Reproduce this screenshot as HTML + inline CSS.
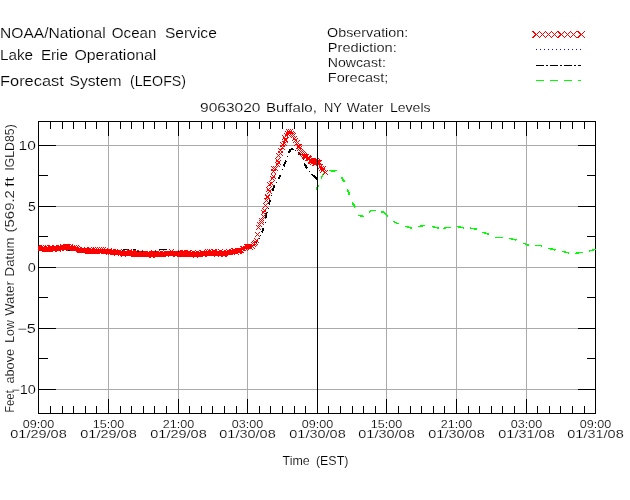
<!DOCTYPE html>
<html lang="en"><head><meta charset="utf-8"><title>9063020 Buffalo, NY Water Levels</title>
<style>html,body{margin:0;padding:0;background:#fff;}svg{display:block;}text{font-family:"Liberation Sans",sans-serif;fill:#000;stroke:#fff;stroke-width:0.15px;}</style></head><body>
<svg width="630" height="500" viewBox="0 0 630 500">
<rect width="630" height="500" fill="#fff"/>
<g shape-rendering="crispEdges" stroke="#aaaaaa" stroke-width="1" fill="none">
<line x1="108.5" y1="121" x2="108.5" y2="414"/>
<line x1="178.5" y1="121" x2="178.5" y2="414"/>
<line x1="247.5" y1="121" x2="247.5" y2="414"/>
<line x1="317.5" y1="121" x2="317.5" y2="414"/>
<line x1="386.5" y1="121" x2="386.5" y2="414"/>
<line x1="456.5" y1="121" x2="456.5" y2="414"/>
<line x1="526.5" y1="121" x2="526.5" y2="414"/>
<line x1="38" y1="389.5" x2="596" y2="389.5"/>
<line x1="38" y1="328.5" x2="596" y2="328.5"/>
<line x1="38" y1="267.5" x2="596" y2="267.5"/>
<line x1="38" y1="206.5" x2="596" y2="206.5"/>
<line x1="38" y1="145.5" x2="596" y2="145.5"/>
</g>
<g shape-rendering="crispEdges" stroke="#000" stroke-width="1" fill="none">
<rect x="38.5" y="121.5" width="557" height="292"/>
<line x1="38.5" y1="121" x2="38.5" y2="136"/>
<line x1="38.5" y1="414" x2="38.5" y2="399"/>
<line x1="50.5" y1="121" x2="50.5" y2="129"/>
<line x1="50.5" y1="414" x2="50.5" y2="406"/>
<line x1="62.5" y1="121" x2="62.5" y2="129"/>
<line x1="62.5" y1="414" x2="62.5" y2="406"/>
<line x1="73.5" y1="121" x2="73.5" y2="129"/>
<line x1="73.5" y1="414" x2="73.5" y2="406"/>
<line x1="85.5" y1="121" x2="85.5" y2="129"/>
<line x1="85.5" y1="414" x2="85.5" y2="406"/>
<line x1="96.5" y1="121" x2="96.5" y2="129"/>
<line x1="96.5" y1="414" x2="96.5" y2="406"/>
<line x1="108.5" y1="121" x2="108.5" y2="136"/>
<line x1="108.5" y1="414" x2="108.5" y2="399"/>
<line x1="120.5" y1="121" x2="120.5" y2="129"/>
<line x1="120.5" y1="414" x2="120.5" y2="406"/>
<line x1="131.5" y1="121" x2="131.5" y2="129"/>
<line x1="131.5" y1="414" x2="131.5" y2="406"/>
<line x1="143.5" y1="121" x2="143.5" y2="129"/>
<line x1="143.5" y1="414" x2="143.5" y2="406"/>
<line x1="154.5" y1="121" x2="154.5" y2="129"/>
<line x1="154.5" y1="414" x2="154.5" y2="406"/>
<line x1="166.5" y1="121" x2="166.5" y2="129"/>
<line x1="166.5" y1="414" x2="166.5" y2="406"/>
<line x1="178.5" y1="121" x2="178.5" y2="136"/>
<line x1="178.5" y1="414" x2="178.5" y2="399"/>
<line x1="189.5" y1="121" x2="189.5" y2="129"/>
<line x1="189.5" y1="414" x2="189.5" y2="406"/>
<line x1="201.5" y1="121" x2="201.5" y2="129"/>
<line x1="201.5" y1="414" x2="201.5" y2="406"/>
<line x1="212.5" y1="121" x2="212.5" y2="129"/>
<line x1="212.5" y1="414" x2="212.5" y2="406"/>
<line x1="224.5" y1="121" x2="224.5" y2="129"/>
<line x1="224.5" y1="414" x2="224.5" y2="406"/>
<line x1="236.5" y1="121" x2="236.5" y2="129"/>
<line x1="236.5" y1="414" x2="236.5" y2="406"/>
<line x1="247.5" y1="121" x2="247.5" y2="136"/>
<line x1="247.5" y1="414" x2="247.5" y2="399"/>
<line x1="259.5" y1="121" x2="259.5" y2="129"/>
<line x1="259.5" y1="414" x2="259.5" y2="406"/>
<line x1="270.5" y1="121" x2="270.5" y2="129"/>
<line x1="270.5" y1="414" x2="270.5" y2="406"/>
<line x1="282.5" y1="121" x2="282.5" y2="129"/>
<line x1="282.5" y1="414" x2="282.5" y2="406"/>
<line x1="294.5" y1="121" x2="294.5" y2="129"/>
<line x1="294.5" y1="414" x2="294.5" y2="406"/>
<line x1="305.5" y1="121" x2="305.5" y2="129"/>
<line x1="305.5" y1="414" x2="305.5" y2="406"/>
<line x1="317.5" y1="121" x2="317.5" y2="136"/>
<line x1="317.5" y1="414" x2="317.5" y2="399"/>
<line x1="328.5" y1="121" x2="328.5" y2="129"/>
<line x1="328.5" y1="414" x2="328.5" y2="406"/>
<line x1="340.5" y1="121" x2="340.5" y2="129"/>
<line x1="340.5" y1="414" x2="340.5" y2="406"/>
<line x1="352.5" y1="121" x2="352.5" y2="129"/>
<line x1="352.5" y1="414" x2="352.5" y2="406"/>
<line x1="363.5" y1="121" x2="363.5" y2="129"/>
<line x1="363.5" y1="414" x2="363.5" y2="406"/>
<line x1="375.5" y1="121" x2="375.5" y2="129"/>
<line x1="375.5" y1="414" x2="375.5" y2="406"/>
<line x1="386.5" y1="121" x2="386.5" y2="136"/>
<line x1="386.5" y1="414" x2="386.5" y2="399"/>
<line x1="398.5" y1="121" x2="398.5" y2="129"/>
<line x1="398.5" y1="414" x2="398.5" y2="406"/>
<line x1="410.5" y1="121" x2="410.5" y2="129"/>
<line x1="410.5" y1="414" x2="410.5" y2="406"/>
<line x1="421.5" y1="121" x2="421.5" y2="129"/>
<line x1="421.5" y1="414" x2="421.5" y2="406"/>
<line x1="433.5" y1="121" x2="433.5" y2="129"/>
<line x1="433.5" y1="414" x2="433.5" y2="406"/>
<line x1="444.5" y1="121" x2="444.5" y2="129"/>
<line x1="444.5" y1="414" x2="444.5" y2="406"/>
<line x1="456.5" y1="121" x2="456.5" y2="136"/>
<line x1="456.5" y1="414" x2="456.5" y2="399"/>
<line x1="468.5" y1="121" x2="468.5" y2="129"/>
<line x1="468.5" y1="414" x2="468.5" y2="406"/>
<line x1="479.5" y1="121" x2="479.5" y2="129"/>
<line x1="479.5" y1="414" x2="479.5" y2="406"/>
<line x1="491.5" y1="121" x2="491.5" y2="129"/>
<line x1="491.5" y1="414" x2="491.5" y2="406"/>
<line x1="502.5" y1="121" x2="502.5" y2="129"/>
<line x1="502.5" y1="414" x2="502.5" y2="406"/>
<line x1="514.5" y1="121" x2="514.5" y2="129"/>
<line x1="514.5" y1="414" x2="514.5" y2="406"/>
<line x1="526.5" y1="121" x2="526.5" y2="136"/>
<line x1="526.5" y1="414" x2="526.5" y2="399"/>
<line x1="537.5" y1="121" x2="537.5" y2="129"/>
<line x1="537.5" y1="414" x2="537.5" y2="406"/>
<line x1="549.5" y1="121" x2="549.5" y2="129"/>
<line x1="549.5" y1="414" x2="549.5" y2="406"/>
<line x1="560.5" y1="121" x2="560.5" y2="129"/>
<line x1="560.5" y1="414" x2="560.5" y2="406"/>
<line x1="572.5" y1="121" x2="572.5" y2="129"/>
<line x1="572.5" y1="414" x2="572.5" y2="406"/>
<line x1="584.5" y1="121" x2="584.5" y2="129"/>
<line x1="584.5" y1="414" x2="584.5" y2="406"/>
<line x1="595.5" y1="121" x2="595.5" y2="136"/>
<line x1="595.5" y1="414" x2="595.5" y2="399"/>
<line x1="38" y1="389.5" x2="56" y2="389.5"/>
<line x1="596" y1="389.5" x2="578" y2="389.5"/>
<line x1="38" y1="358.5" x2="48" y2="358.5"/>
<line x1="596" y1="358.5" x2="587" y2="358.5"/>
<line x1="38" y1="328.5" x2="56" y2="328.5"/>
<line x1="596" y1="328.5" x2="578" y2="328.5"/>
<line x1="38" y1="297.5" x2="48" y2="297.5"/>
<line x1="596" y1="297.5" x2="587" y2="297.5"/>
<line x1="38" y1="267.5" x2="56" y2="267.5"/>
<line x1="596" y1="267.5" x2="578" y2="267.5"/>
<line x1="38" y1="236.5" x2="48" y2="236.5"/>
<line x1="596" y1="236.5" x2="587" y2="236.5"/>
<line x1="38" y1="206.5" x2="56" y2="206.5"/>
<line x1="596" y1="206.5" x2="578" y2="206.5"/>
<line x1="38" y1="175.5" x2="48" y2="175.5"/>
<line x1="596" y1="175.5" x2="587" y2="175.5"/>
<line x1="38" y1="145.5" x2="56" y2="145.5"/>
<line x1="596" y1="145.5" x2="578" y2="145.5"/>
</g>
<clipPath id="pc"><rect x="38" y="121" width="558" height="293"/></clipPath>
<defs><path id="xs" shape-rendering="crispEdges" fill="#ff0000" stroke="none" d="M-2,-2h1v1h-1zM-1,-1h1v1h-1zM0,0h1v1h-1zM1,1h1v1h-1zM2,2h1v1h-1zM-2,2h1v1h-1zM-1,1h1v1h-1zM1,-1h1v1h-1zM2,-2h1v1h-1z"/></defs>
<defs><path id="xm" shape-rendering="crispEdges" fill="#ff0000" stroke="none" d="M-3,-3h1v1h-1zM-2,-2h1v1h-1zM-1,-1h1v1h-1zM0,0h1v1h-1zM1,1h1v1h-1zM2,2h1v1h-1zM3,3h1v1h-1zM-3,3h1v1h-1zM-2,2h1v1h-1zM-1,1h1v1h-1zM1,-1h1v1h-1zM2,-2h1v1h-1zM3,-3h1v1h-1z"/>
<path id="xl" shape-rendering="crispEdges" fill="#ff0000" stroke="none" d="M-3,-3h1v1h-1zM-2,-2h1v1h-1zM-1,-1h1v1h-1zM0,0h1v1h-1zM-3,3h1v1h-1zM-2,2h1v1h-1zM-1,1h1v1h-1z"/></defs>
<polyline shape-rendering="crispEdges" points="38.5,250.0 67.0,250.3 90.0,250.5 123.0,251.0 166.0,251.0 178.0,251.5 190.0,252.0 216.0,252.0 234.0,251.0 247.0,248.5 254.0,245.5 258.0,240.0" fill="none" stroke="#000" stroke-width="1" stroke-dasharray="8 2 2 2"/>
<g shape-rendering="crispEdges" fill="#000" stroke="#000" stroke-width="1.9">
<polyline points="123.0,249.5 129.0,249.5" fill="none" stroke-width="1"/>
<polyline points="133.0,249.5 135.5,249.5" fill="none" stroke-width="1"/>
<polyline points="159.0,249.5 166.5,249.5" fill="none" stroke-width="1"/>
<rect x="259" y="238" width="1" height="1" stroke="none"/>
<rect x="260" y="235" width="1" height="1" stroke="none"/>
<polyline points="262.0,232.6 263.4,227.8" fill="none"/>
<rect x="265" y="222" width="1" height="1" stroke="none"/>
<polyline points="265.6,218.2 266.8,211.6" fill="none"/>
<rect x="268" y="208" width="1" height="1" stroke="none"/>
<polyline points="268.6,204.4 270.2,199.6" fill="none"/>
<rect x="271" y="195" width="1" height="1" stroke="none"/>
<polyline points="272.5,191.2 274.3,185.1" fill="none"/>
<rect x="276" y="182" width="1" height="1" stroke="none"/>
<polyline points="278.5,179.0 280.5,174.7" fill="none"/>
<rect x="282" y="169" width="1" height="1" stroke="none"/>
<polyline points="283.6,166.4 286.0,160.4" fill="none"/>
<rect x="287" y="156" width="1" height="1" stroke="none"/>
<polyline points="288.6,153.0 290.5,149.6 293.5,148.5" fill="none"/>
<rect x="295" y="150" width="1" height="1" stroke="none"/>
<polyline points="298.0,153.0 300.5,155.0" fill="none"/>
<rect x="303" y="159" width="1" height="1" stroke="none"/>
<polyline points="304.4,163.5 307.0,168.5" fill="none"/>
<rect x="309" y="171" width="1" height="1" stroke="none"/>
<polyline points="311.5,174.2 317.2,179.0" fill="none"/>
</g>
<g shape-rendering="crispEdges" fill="none" stroke="#00ff00" stroke-width="1.4">
<polyline points="316.0,189.5 318.6,185.2" stroke-width="1.3"/>
<polyline points="321.2,178.7 323.7,173.0" stroke-width="1.3"/>
<polyline points="329.2,170.5 336.8,170.5" stroke-width="1"/>
<polyline points="331.2,171.5 335.0,171.5" stroke-width="1"/>
<polyline points="341.4,177.3 344.6,182.3" stroke-width="1.9"/>
<polyline points="347.4,189.5 349.6,195.3" stroke-width="1.9"/>
<polyline points="352.2,202.2 355.4,207.5" stroke-width="1.9"/>
<polyline points="358.2,215.5 364.0,216.5" stroke-width="1.5"/>
<polyline points="369.0,212.6 371.2,210.7 376.0,210.7" stroke-width="1.5"/>
<polyline points="381.3,212.3 384.2,212.5 387.8,216.5" stroke-width="1.9"/>
<polyline points="393.1,221.3 398.7,224.1" stroke-width="1.5"/>
<polyline points="405.2,226.2 411.8,228.3" stroke-width="1.5"/>
<polyline points="418.3,226.5 425.0,225.5" stroke-width="1.5"/>
<polyline points="432.3,226.4 438.9,228.3" stroke-width="1.5"/>
<polyline points="443.3,229.0 445.9,227.4 450.8,227.4" stroke-width="1.5"/>
<polyline points="457.2,226.5 463.7,228.0" stroke-width="1.5"/>
<polyline points="470.3,228.1 476.8,229.3" stroke-width="1.5"/>
<polyline points="482.2,232.3 489.5,234.4" stroke-width="1.5"/>
<polyline points="494.9,237.5 503.1,237.5" stroke-width="1"/>
<polyline points="508.9,238.3 516.5,240.1" stroke-width="1.5"/>
<polyline points="523.2,243.2 528.8,245.3" stroke-width="1.5"/>
<polyline points="535.0,245.5 542.4,245.8" stroke-width="1.5"/>
<polyline points="548.5,248.3 555.5,250.0" stroke-width="1.5"/>
<polyline points="562.5,251.4 568.9,253.0" stroke-width="1.5"/>
<polyline points="575.0,253.4 582.5,252.3" stroke-width="1.5"/>
<polyline points="589.2,251.0 595.6,249.3" stroke-width="1.5"/>
</g>
<g clip-path="url(#pc)" shape-rendering="crispEdges" fill="none" stroke="#ff0000">
<polyline points="38.0,248.4 47.7,249.8 60.4,248.0 69.3,247.9 76.9,249.1 79.4,250.9 92.0,251.1 101.0,251.0 111.0,252.0 123.0,253.3 135.4,254.4 148.0,254.2 160.8,254.9 171.0,253.0 181.0,254.4 190.0,254.9 197.7,254.5 210.4,253.3 223.0,253.9 233.0,252.0 242.0,250.1" stroke-width="5"/>
<use href="#xs" x="38" y="247"/><use href="#xs" x="39" y="247"/><use href="#xs" x="40" y="248"/><use href="#xs" x="41" y="247"/><use href="#xs" x="43" y="248"/><use href="#xs" x="44" y="248"/><use href="#xs" x="45" y="247"/><use href="#xs" x="46" y="249"/><use href="#xs" x="47" y="247"/><use href="#xs" x="48" y="248"/><use href="#xs" x="50" y="247"/><use href="#xs" x="51" y="247"/><use href="#xs" x="52" y="248"/><use href="#xs" x="53" y="249"/><use href="#xs" x="54" y="247"/><use href="#xs" x="55" y="247"/><use href="#xs" x="57" y="248"/><use href="#xs" x="58" y="249"/><use href="#xs" x="59" y="247"/><use href="#xs" x="60" y="247"/><use href="#xs" x="61" y="248"/><use href="#xs" x="62" y="246"/><use href="#xs" x="64" y="248"/><use href="#xs" x="65" y="246"/><use href="#xs" x="66" y="246"/><use href="#xs" x="67" y="246"/><use href="#xs" x="68" y="246"/><use href="#xs" x="69" y="248"/><use href="#xs" x="70" y="246"/><use href="#xs" x="72" y="248"/><use href="#xs" x="73" y="248"/><use href="#xs" x="74" y="247"/><use href="#xs" x="75" y="248"/><use href="#xs" x="76" y="247"/><use href="#xs" x="77" y="248"/><use href="#xs" x="79" y="249"/><use href="#xs" x="80" y="250"/><use href="#xs" x="81" y="250"/><use href="#xs" x="82" y="249"/><use href="#xs" x="83" y="250"/><use href="#xs" x="84" y="250"/><use href="#xs" x="86" y="249"/><use href="#xs" x="87" y="251"/><use href="#xs" x="88" y="251"/><use href="#xs" x="89" y="249"/><use href="#xs" x="90" y="250"/><use href="#xs" x="91" y="250"/><use href="#xs" x="93" y="251"/><use href="#xs" x="94" y="251"/><use href="#xs" x="95" y="249"/><use href="#xs" x="96" y="251"/><use href="#xs" x="97" y="249"/><use href="#xs" x="98" y="250"/><use href="#xs" x="100" y="251"/><use href="#xs" x="101" y="249"/><use href="#xs" x="102" y="250"/><use href="#xs" x="103" y="249"/><use href="#xs" x="104" y="251"/><use href="#xs" x="105" y="251"/><use href="#xs" x="106" y="251"/><use href="#xs" x="108" y="252"/><use href="#xs" x="109" y="250"/><use href="#xs" x="110" y="252"/><use href="#xs" x="111" y="251"/><use href="#xs" x="112" y="251"/><use href="#xs" x="113" y="251"/><use href="#xs" x="115" y="252"/><use href="#xs" x="116" y="253"/><use href="#xs" x="117" y="252"/><use href="#xs" x="118" y="252"/><use href="#xs" x="119" y="251"/><use href="#xs" x="120" y="253"/><use href="#xs" x="122" y="253"/><use href="#xs" x="123" y="254"/><use href="#xs" x="124" y="253"/><use href="#xs" x="125" y="252"/><use href="#xs" x="126" y="252"/><use href="#xs" x="127" y="253"/><use href="#xs" x="129" y="251"/><use href="#xs" x="130" y="253"/><use href="#xs" x="131" y="252"/><use href="#xs" x="132" y="252"/><use href="#xs" x="133" y="252"/><use href="#xs" x="134" y="254"/><use href="#xs" x="135" y="252"/><use href="#xs" x="137" y="253"/><use href="#xs" x="138" y="253"/><use href="#xs" x="139" y="254"/><use href="#xs" x="140" y="252"/><use href="#xs" x="141" y="253"/><use href="#xs" x="142" y="253"/><use href="#xs" x="144" y="254"/><use href="#xs" x="145" y="254"/><use href="#xs" x="146" y="254"/><use href="#xs" x="147" y="253"/><use href="#xs" x="148" y="253"/><use href="#xs" x="149" y="253"/><use href="#xs" x="151" y="255"/><use href="#xs" x="152" y="255"/><use href="#xs" x="153" y="252"/><use href="#xs" x="154" y="253"/><use href="#xs" x="155" y="253"/><use href="#xs" x="156" y="253"/><use href="#xs" x="158" y="254"/><use href="#xs" x="159" y="254"/><use href="#xs" x="160" y="253"/><use href="#xs" x="161" y="252"/><use href="#xs" x="162" y="253"/><use href="#xs" x="163" y="253"/><use href="#xs" x="164" y="253"/><use href="#xs" x="166" y="254"/><use href="#xs" x="167" y="253"/><use href="#xs" x="168" y="253"/><use href="#xs" x="169" y="253"/><use href="#xs" x="170" y="253"/><use href="#xs" x="171" y="251"/><use href="#xs" x="173" y="253"/><use href="#xs" x="174" y="253"/><use href="#xs" x="175" y="254"/><use href="#xs" x="176" y="254"/><use href="#xs" x="177" y="253"/><use href="#xs" x="178" y="253"/><use href="#xs" x="180" y="252"/><use href="#xs" x="181" y="254"/><use href="#xs" x="182" y="252"/><use href="#xs" x="183" y="252"/><use href="#xs" x="184" y="253"/><use href="#xs" x="185" y="253"/><use href="#xs" x="187" y="253"/><use href="#xs" x="188" y="252"/><use href="#xs" x="189" y="252"/><use href="#xs" x="190" y="253"/><use href="#xs" x="191" y="253"/><use href="#xs" x="192" y="253"/><use href="#xs" x="193" y="252"/><use href="#xs" x="195" y="255"/><use href="#xs" x="196" y="254"/><use href="#xs" x="197" y="252"/><use href="#xs" x="198" y="253"/><use href="#xs" x="199" y="253"/><use href="#xs" x="200" y="253"/><use href="#xs" x="202" y="252"/><use href="#xs" x="203" y="254"/><use href="#xs" x="204" y="254"/><use href="#xs" x="205" y="253"/><use href="#xs" x="206" y="253"/><use href="#xs" x="207" y="251"/><use href="#xs" x="209" y="251"/><use href="#xs" x="210" y="252"/><use href="#xs" x="211" y="252"/><use href="#xs" x="212" y="253"/><use href="#xs" x="213" y="251"/><use href="#xs" x="214" y="251"/><use href="#xs" x="216" y="254"/><use href="#xs" x="217" y="253"/><use href="#xs" x="218" y="252"/><use href="#xs" x="219" y="253"/><use href="#xs" x="220" y="251"/><use href="#xs" x="221" y="253"/><use href="#xs" x="223" y="254"/><use href="#xs" x="224" y="254"/><use href="#xs" x="225" y="253"/><use href="#xs" x="226" y="252"/><use href="#xs" x="227" y="252"/><use href="#xs" x="228" y="251"/><use href="#xs" x="229" y="252"/><use href="#xs" x="231" y="251"/><use href="#xs" x="232" y="252"/><use href="#xs" x="233" y="250"/><use href="#xs" x="234" y="250"/><use href="#xs" x="235" y="251"/><use href="#xs" x="236" y="252"/><use href="#xs" x="238" y="251"/><use href="#xs" x="239" y="251"/><use href="#xs" x="240" y="250"/><use href="#xs" x="241" y="250"/><use href="#xs" x="242" y="248"/><use href="#xs" x="243" y="248"/><use href="#xs" x="245" y="248"/><use href="#xs" x="246" y="246"/><use href="#xs" x="247" y="246"/><use href="#xs" x="248" y="246"/><use href="#xs" x="249" y="246"/><use href="#xs" x="250" y="247"/><use href="#xs" x="252" y="246"/><use href="#xs" x="253" y="244"/><use href="#xs" x="254" y="243"/><use href="#xs" x="255" y="242"/><use href="#xs" x="256" y="240"/><use href="#xs" x="257" y="234"/><use href="#xs" x="258" y="227"/><use href="#xs" x="259" y="224"/><use href="#xs" x="261" y="222"/><use href="#xs" x="261" y="220"/><use href="#xs" x="263" y="216"/><use href="#xs" x="263" y="212"/><use href="#xs" x="264" y="210"/><use href="#xs" x="265" y="205"/><use href="#xs" x="266" y="200"/><use href="#xs" x="267" y="197"/><use href="#xs" x="267" y="196"/><use href="#xs" x="269" y="191"/><use href="#xs" x="268" y="189"/><use href="#xs" x="269" y="184"/><use href="#xs" x="271" y="183"/><use href="#xs" x="272" y="178"/><use href="#xs" x="273" y="176"/><use href="#xs" x="273" y="171"/><use href="#xs" x="273" y="168"/><use href="#xs" x="275" y="168"/><use href="#xs" x="277" y="164"/><use href="#xs" x="278" y="162"/><use href="#xs" x="277" y="160"/><use href="#xs" x="278" y="155"/><use href="#xs" x="280" y="153"/><use href="#xs" x="280" y="150"/><use href="#xs" x="282" y="147"/><use href="#xs" x="282" y="144"/><use href="#xs" x="284" y="143"/><use href="#xs" x="285" y="140"/><use href="#xs" x="285" y="139"/><use href="#xs" x="284" y="137"/><use href="#xs" x="286" y="135"/><use href="#xs" x="287" y="133"/><use href="#xs" x="288" y="131"/><use href="#xs" x="289" y="133"/><use href="#xs" x="290" y="131"/><use href="#xs" x="291" y="133"/><use href="#xs" x="292" y="134"/><use href="#xs" x="292" y="134"/><use href="#xs" x="293" y="135"/><use href="#xs" x="294" y="138"/><use href="#xs" x="295" y="140"/><use href="#xs" x="296" y="143"/><use href="#xs" x="297" y="142"/><use href="#xs" x="298" y="146"/><use href="#xs" x="299" y="146"/><use href="#xs" x="299" y="148"/><use href="#xs" x="300" y="151"/><use href="#xs" x="301" y="152"/><use href="#xs" x="302" y="153"/><use href="#xs" x="303" y="154"/><use href="#xs" x="304" y="156"/><use href="#xs" x="304" y="155"/><use href="#xs" x="305" y="156"/><use href="#xs" x="306" y="156"/><use href="#xs" x="306" y="156"/><use href="#xs" x="307" y="158"/><use href="#xs" x="308" y="157"/><use href="#xs" x="308" y="158"/><use href="#xs" x="309" y="158"/><use href="#xs" x="310" y="161"/><use href="#xs" x="310" y="160"/><use href="#xs" x="311" y="161"/><use href="#xs" x="312" y="162"/><use href="#xs" x="313" y="160"/><use href="#xs" x="313" y="161"/><use href="#xs" x="314" y="163"/><use href="#xs" x="315" y="163"/><use href="#xs" x="315" y="160"/><use href="#xs" x="316" y="160"/><use href="#xs" x="317" y="162"/><use href="#xs" x="317" y="161"/><use href="#xs" x="318" y="162"/><use href="#xs" x="319" y="162"/><use href="#xs" x="320" y="166"/><use href="#xs" x="321" y="168"/><use href="#xs" x="322" y="170"/><use href="#xs" x="323" y="168"/><use href="#xs" x="325" y="172"/>
</g>
<line shape-rendering="crispEdges" x1="317.5" y1="121" x2="317.5" y2="414" stroke="#000" stroke-width="1"/>
<g shape-rendering="crispEdges" fill="none">
<use href="#xm" x="536" y="34"/>
<use href="#xm" x="542" y="34"/>
<use href="#xm" x="548" y="34"/>
<use href="#xm" x="554" y="34"/>
<use href="#xm" x="561" y="34"/>
<use href="#xm" x="567" y="34"/>
<use href="#xm" x="573" y="34"/>
<use href="#xm" x="581" y="34"/>
<use href="#xl" x="535" y="34"/>
<use href="#xl" x="560" y="34"/>
<use href="#xl" x="580" y="34"/>
<line x1="536" y1="49.5" x2="581" y2="49.5" stroke="#0000ff" stroke-width="1" stroke-dasharray="1 3"/>
<line x1="536" y1="65.5" x2="581" y2="65.5" stroke="#000" stroke-width="1" stroke-dasharray="8 2 2 2"/>
<line x1="536" y1="80.5" x2="581" y2="80.5" stroke="#00ff00" stroke-width="1" stroke-dasharray="8 6"/>
</g>
<text y="38" font-size="14"><tspan x="0.0" textLength="105.7" lengthAdjust="spacingAndGlyphs">NOAA/National</tspan> <tspan x="111.8" textLength="44.6" lengthAdjust="spacingAndGlyphs">Ocean</tspan> <tspan x="164.9" textLength="51.9" lengthAdjust="spacingAndGlyphs">Service</tspan></text>
<text y="60" font-size="14"><tspan x="0.0" textLength="33.1" lengthAdjust="spacingAndGlyphs">Lake</tspan> <tspan x="40.9" textLength="27.1" lengthAdjust="spacingAndGlyphs">Erie</tspan> <tspan x="74.4" textLength="82.0" lengthAdjust="spacingAndGlyphs">Operational</tspan></text>
<text y="86" font-size="14"><tspan x="0.0" textLength="63.8" lengthAdjust="spacingAndGlyphs">Forecast</tspan> <tspan x="69.5" textLength="52.1" lengthAdjust="spacingAndGlyphs">System</tspan> <tspan x="130.0" textLength="56.0" lengthAdjust="spacingAndGlyphs">(LEOFS)</tspan></text>
<text y="37" font-size="12.5"><tspan x="327.1" textLength="81.1" lengthAdjust="spacingAndGlyphs">Observation:</tspan></text>
<text y="52" font-size="12.5"><tspan x="327.8" textLength="69.0" lengthAdjust="spacingAndGlyphs">Prediction:</tspan></text>
<text y="67" font-size="12.5"><tspan x="327.8" textLength="58.1" lengthAdjust="spacingAndGlyphs">Nowcast:</tspan></text>
<text y="82" font-size="12.5"><tspan x="327.8" textLength="60.6" lengthAdjust="spacingAndGlyphs">Forecast;</tspan></text>
<text y="112" font-size="12.5"><tspan x="200.1" textLength="60.3" lengthAdjust="spacingAndGlyphs">9063020</tspan> <tspan x="265.9" textLength="51.0" lengthAdjust="spacingAndGlyphs">Buffalo,</tspan> <tspan x="324.1" textLength="17.6" lengthAdjust="spacingAndGlyphs">NY</tspan> <tspan x="346.8" textLength="36.6" lengthAdjust="spacingAndGlyphs">Water</tspan> <tspan x="389.9" textLength="40.7" lengthAdjust="spacingAndGlyphs">Levels</tspan></text>
<text y="465" font-size="12.5"><tspan x="282.6" textLength="27.2" lengthAdjust="spacingAndGlyphs">Time</tspan> <tspan x="315.9" textLength="32.5" lengthAdjust="spacingAndGlyphs">(EST)</tspan></text>
<text y="427.5" font-size="10" stroke="none"><tspan x="22.8" textLength="31.4" lengthAdjust="spacingAndGlyphs">09:00</tspan></text>
<text y="438" font-size="10.5" stroke="none"><tspan x="10.3" textLength="56.4" lengthAdjust="spacingAndGlyphs">01/29/08</tspan></text>
<text y="427.5" font-size="10" stroke="none"><tspan x="92.8" textLength="31.4" lengthAdjust="spacingAndGlyphs">15:00</tspan></text>
<text y="438" font-size="10.5" stroke="none"><tspan x="80.3" textLength="56.4" lengthAdjust="spacingAndGlyphs">01/29/08</tspan></text>
<text y="427.5" font-size="10" stroke="none"><tspan x="162.8" textLength="31.4" lengthAdjust="spacingAndGlyphs">21:00</tspan></text>
<text y="438" font-size="10.5" stroke="none"><tspan x="150.3" textLength="56.4" lengthAdjust="spacingAndGlyphs">01/29/08</tspan></text>
<text y="427.5" font-size="10" stroke="none"><tspan x="231.8" textLength="31.4" lengthAdjust="spacingAndGlyphs">03:00</tspan></text>
<text y="438" font-size="10.5" stroke="none"><tspan x="219.3" textLength="56.4" lengthAdjust="spacingAndGlyphs">01/30/08</tspan></text>
<text y="427.5" font-size="10" stroke="none"><tspan x="301.8" textLength="31.4" lengthAdjust="spacingAndGlyphs">09:00</tspan></text>
<text y="438" font-size="10.5" stroke="none"><tspan x="289.3" textLength="56.4" lengthAdjust="spacingAndGlyphs">01/30/08</tspan></text>
<text y="427.5" font-size="10" stroke="none"><tspan x="370.8" textLength="31.4" lengthAdjust="spacingAndGlyphs">15:00</tspan></text>
<text y="438" font-size="10.5" stroke="none"><tspan x="358.3" textLength="56.4" lengthAdjust="spacingAndGlyphs">01/30/08</tspan></text>
<text y="427.5" font-size="10" stroke="none"><tspan x="440.8" textLength="31.4" lengthAdjust="spacingAndGlyphs">21:00</tspan></text>
<text y="438" font-size="10.5" stroke="none"><tspan x="428.3" textLength="56.4" lengthAdjust="spacingAndGlyphs">01/30/08</tspan></text>
<text y="427.5" font-size="10" stroke="none"><tspan x="510.8" textLength="31.4" lengthAdjust="spacingAndGlyphs">03:00</tspan></text>
<text y="438" font-size="10.5" stroke="none"><tspan x="498.3" textLength="56.4" lengthAdjust="spacingAndGlyphs">01/31/08</tspan></text>
<text y="427.5" font-size="10" stroke="none"><tspan x="579.8" textLength="31.4" lengthAdjust="spacingAndGlyphs">09:00</tspan></text>
<text y="438" font-size="10.5" stroke="none"><tspan x="567.3" textLength="56.4" lengthAdjust="spacingAndGlyphs">01/31/08</tspan></text>
<text y="149.8" font-size="12"><tspan x="18.5" textLength="17.3" lengthAdjust="spacingAndGlyphs">10</tspan></text>
<text y="210.8" font-size="12"><tspan x="28.0" textLength="7.8" lengthAdjust="spacingAndGlyphs">5</tspan></text>
<text y="271.8" font-size="12"><tspan x="27.7" textLength="8.1" lengthAdjust="spacingAndGlyphs">0</tspan></text>
<text y="332.8" font-size="12"><tspan x="17.2" textLength="18.6" lengthAdjust="spacingAndGlyphs">−5</tspan></text>
<text y="393.8" font-size="12"><tspan x="11.2" textLength="24.6" lengthAdjust="spacingAndGlyphs">−10</tspan></text>
<text y="0" font-size="12" transform="translate(14,413) rotate(-90)"><tspan x="0.2" textLength="22.6" lengthAdjust="spacingAndGlyphs">Feet</tspan> <tspan x="29.5" textLength="34.6" lengthAdjust="spacingAndGlyphs">above</tspan> <tspan x="70.2" textLength="22.6" lengthAdjust="spacingAndGlyphs">Low</tspan> <tspan x="97.2" textLength="34.6" lengthAdjust="spacingAndGlyphs">Water</tspan> <tspan x="136.6" textLength="39.0" lengthAdjust="spacingAndGlyphs">Datum</tspan> <tspan x="180.6" textLength="42.3" lengthAdjust="spacingAndGlyphs">(569.2</tspan> <tspan x="225.7" textLength="10.4" lengthAdjust="spacingAndGlyphs">ft</tspan> <tspan x="242.2" textLength="46.6" lengthAdjust="spacingAndGlyphs">IGLD85)</tspan></text>
</svg></body></html>
